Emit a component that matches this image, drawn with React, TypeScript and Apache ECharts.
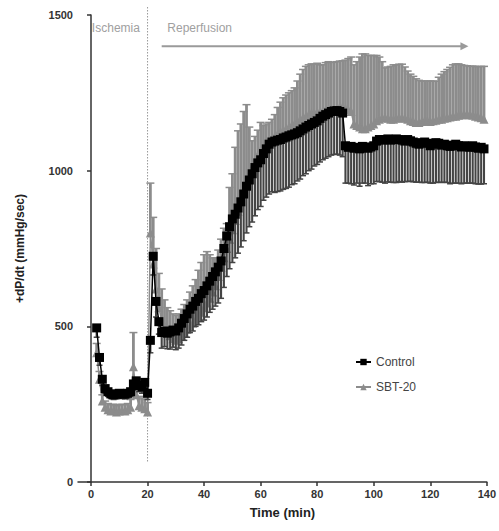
import React, { useEffect, useRef } from "react";
import * as echarts from "echarts";

const times: number[] = Array.from({ length: 138 }, (_, i) => i + 2);

const controlMean: number[] = [
  495, 400, 330, 300, 290, 283, 280, 282, 285, 283,
  282, 285, 290, 315, 325, 310, 305, 320, 285, 455,
  725, 580, 515, 480, 485, 478, 482, 488, 485, 495,
  510, 525, 540, 555, 565, 580, 590, 605, 615, 630,
  645, 660, 675, 690, 710, 750, 790, 820, 845, 860,
  880, 900, 925, 950, 970, 990, 1010, 1025, 1035, 1055,
  1070, 1085, 1092, 1095, 1098, 1100, 1105, 1108, 1112, 1115,
  1118, 1122, 1128, 1134, 1140, 1145, 1150, 1155, 1160, 1168,
  1175, 1180, 1185, 1190, 1192, 1193, 1190, 1185, 1080, 1075,
  1078, 1072, 1075, 1070, 1078, 1075, 1072, 1076, 1080, 1095,
  1100, 1098, 1100, 1102, 1098, 1100, 1102, 1100, 1098, 1095,
  1100, 1096, 1092, 1088, 1085, 1090, 1092, 1088, 1080, 1085,
  1090, 1088, 1082, 1085, 1080, 1078, 1082, 1085, 1080, 1076,
  1080, 1078, 1075, 1080, 1076, 1072, 1075, 1070,
];

const controlErr: number[] = [
  30, 25, 20, 15, 15, 15, 15, 15, 15, 15,
  15, 15, 15, 20, 20, 20, 20, 20, 20, 40,
  60, 50, 40, 50, 50, 50, 55, 55, 60, 65,
  70, 70, 75, 75, 80, 80, 85, 90, 95, 100,
  100, 105, 110, 115, 120, 125, 130, 135, 140, 140,
  145, 145, 150, 150, 150, 155, 155, 150, 150, 150,
  155, 160, 160, 165, 165, 165, 165, 165, 165, 160,
  160, 155, 155, 150, 150, 145, 145, 140, 140, 140,
  140, 140, 140, 140, 140, 140, 140, 140, 120, 115,
  120, 118, 115, 120, 118, 115, 120, 118, 122, 130,
  135, 135, 140, 138, 135, 138, 140, 135, 135, 130,
  135, 130, 128, 125, 122, 128, 130, 125, 120, 125,
  128, 125, 120, 122, 118, 120, 122, 125, 120, 118,
  120, 118, 115, 120, 118, 115, 118, 112,
];

const sbtMean: number[] = [
  415, 330, 260, 240, 232, 228, 230, 225, 228, 230,
  228, 232, 240, 370, 280, 245, 240, 235, 225, 800,
  700, 620, 560, 520, 495, 480, 470, 460, 455, 460,
  470, 480, 490, 500, 510, 520, 530, 545, 560, 575,
  590, 610, 630, 660, 690, 720, 750, 780, 810, 840,
  870, 900, 930, 960, 990, 1010, 1030, 1050, 1065, 1075,
  1085, 1095, 1105, 1110, 1118, 1125, 1130, 1135, 1140, 1145,
  1150, 1158, 1165, 1170, 1175, 1180, 1185, 1185, 1188, 1190,
  1192, 1195, 1195, 1198, 1200, 1200, 1205, 1205, 1200, 1195,
  1190, 1150, 1145, 1140, 1135, 1135, 1140, 1145, 1150, 1160,
  1165, 1170, 1170, 1168, 1165, 1165, 1168, 1170, 1170, 1168,
  1165, 1160, 1158, 1155, 1155, 1158, 1160, 1160, 1158, 1160,
  1162, 1165, 1165, 1168, 1170, 1172, 1175, 1175, 1178, 1180,
  1180, 1182, 1180, 1178, 1175, 1172, 1170, 1165,
];

const sbtErr: number[] = [
  30, 25, 20, 20, 20, 20, 20, 20, 20, 20,
  20, 20, 25, 110, 40, 30, 30, 30, 30, 160,
  150, 130, 110, 100, 90, 80, 80, 80, 80, 80,
  85, 90, 95, 110, 120, 130, 150, 160, 170, 165,
  140, 110, 90, 85, 90, 95, 80, 166, 180, 235,
  258, 250, 260, 252, 150, 86, 80, 80, 90, 70,
  65, 60, 60, 70, 85, 95, 104, 108, 110, 112,
  116, 130, 145, 155, 160, 160, 158, 157, 157, 150,
  148, 152, 155, 150, 148, 150, 147, 148, 155, 165,
  175, 190, 205, 225, 240, 240, 230, 225, 220, 210,
  200, 180, 160, 165, 170, 175, 172, 172, 172, 165,
  155, 150, 145, 140, 135, 130, 128, 128, 130, 128,
  125, 135, 145, 150, 155, 160, 165, 168, 165, 160,
  158, 155, 155, 158, 160, 162, 165, 170,
];

const xTicks: number[] = [0, 20, 40, 60, 80, 100, 120, 140];

const GRAY = "#8c8c8c";
const FONT = "'Liberation Sans', Arial, sans-serif";

function errSeries(name: string, mean: number[], err: number[], up: boolean, down: boolean, color: string, lw: number, capW: number, z: number) {
  return {
    name,
    type: "custom",
    z,
    silent: true,
    data: times.map((t, i) => [t, mean[i], err[i]]),
    encode: { x: 0, y: 1 },
    renderItem: (_params: any, api: any) => {
      const x = api.value(0);
      const y = api.value(1);
      const e = api.value(2);
      const children: any[] = [];
      const ends: number[][] = [];
      if (up) ends.push(api.coord([x, y + e]));
      if (down) ends.push(api.coord([x, y - e]));
      const p0 = api.coord([x, y]);
      for (const p1 of ends) {
        children.push({ type: "line", shape: { x1: p0[0], y1: p0[1], x2: p1[0], y2: p1[1] }, style: { stroke: color, lineWidth: lw } });
        children.push({ type: "line", shape: { x1: p1[0] - capW / 2, y1: p1[1], x2: p1[0] + capW / 2, y2: p1[1] }, style: { stroke: color, lineWidth: 1.5 } });
      }
      return { type: "group", children };
    },
  };
}

export default function App() {
  const ref = useRef<HTMLDivElement>(null);
  useEffect(() => {
    document.body.style.margin = "0";
    if (!ref.current) return;
    const chart = echarts.init(ref.current, null, { renderer: "svg" });
    const option: any = {
      animation: false,
      backgroundColor: "#fff",
      grid: { left: 78, right: 12, top: 15, bottom: 49 },
      xAxis: {
        type: "value",
        min: -4.6,
        max: 140,
        name: "Time (min)",
        nameLocation: "middle",
        nameGap: 24,
        nameTextStyle: { fontFamily: FONT, fontWeight: "bold", fontSize: 13, color: "#222" },
        axisLine: { show: true, onZero: false, lineStyle: { color: "#333", width: 1.5 } },
        axisTick: { show: true, customValues: xTicks, length: 4, lineStyle: { color: "#333", width: 1.5 } },
        axisLabel: { customValues: xTicks, fontFamily: FONT, fontWeight: "bold", fontSize: 11, color: "#333", margin: 6 },
        splitLine: { show: false },
      },
      yAxis: {
        type: "value",
        min: 0,
        max: 1500,
        interval: 500,
        name: "+dP/dt (mmHg/sec)",
        nameLocation: "middle",
        nameGap: 52,
        nameTextStyle: { fontFamily: FONT, fontWeight: "bold", fontSize: 12, color: "#222" },
        axisLine: { show: true, lineStyle: { color: "#333", width: 1.5 } },
        axisTick: { show: true, length: 4, lineStyle: { color: "#333", width: 1.5 } },
        axisLabel: { formatter: (v: number) => String(v), fontFamily: FONT, fontWeight: "bold", fontSize: 11, color: "#333", margin: 5 },
        splitLine: { show: false },
      },
      legend: {
        data: ["Control", "SBT-20"],
        orient: "vertical",
        left: 350,
        top: 351,
        itemGap: 13,
        itemWidth: 15,
        itemHeight: 8,
        textStyle: { fontFamily: FONT, fontSize: 12, color: "#444" },
      },
      series: [
        errSeries("sbtErr", sbtMean, sbtErr, true, false, GRAY, 2.8, 8, 1),
        {
          name: "SBT-20",
          type: "line",
          z: 2,
          data: times.map((t, i) => [t, sbtMean[i]]),
          symbol: "triangle",
          symbolSize: 9,
          lineStyle: { color: GRAY, width: 1.5 },
          itemStyle: { color: GRAY },
        },
        errSeries("ctlErr", controlMean, controlErr, false, true, "#444", 2.1, 6, 3),
        {
          name: "Control",
          type: "line",
          z: 4,
          data: times.map((t, i) => [t, controlMean[i]]),
          symbol: "rect",
          symbolSize: 9,
          lineStyle: { color: "#000", width: 1.5 },
          itemStyle: { color: "#000" },
        },
      ],
    };
    chart.setOption(option);

    const pIsch = chart.convertToPixel({ gridIndex: 0 }, [20, 65]) as number[];
    const aStart = chart.convertToPixel({ gridIndex: 0 }, [25, 1400]) as number[];
    const aEnd = chart.convertToPixel({ gridIndex: 0 }, [133.5, 1400]) as number[];
    const tIsch = chart.convertToPixel({ gridIndex: 0 }, [8.8, 1458]) as number[];
    const tRep = chart.convertToPixel({ gridIndex: 0 }, [27, 1458]) as number[];

    chart.setOption({
      graphic: [
        {
          type: "line",
          shape: { x1: pIsch[0], y1: 7, x2: pIsch[0], y2: pIsch[1] },
          style: { stroke: "#999", lineWidth: 1, lineDash: [1.5, 1.5] },
          z: 0,
        },
        {
          type: "line",
          shape: { x1: aStart[0], y1: aStart[1], x2: aEnd[0] - 6, y2: aEnd[1] },
          style: { stroke: "#9a9a9a", lineWidth: 2 },
        },
        {
          type: "polygon",
          shape: { points: [[aEnd[0] - 8, aEnd[1] - 4], [aEnd[0], aEnd[1]], [aEnd[0] - 8, aEnd[1] + 4]] },
          style: { fill: "#9a9a9a" },
        },
        {
          type: "text",
          x: tIsch[0],
          y: tIsch[1],
          style: { text: "Ischemia", fill: "#a0a0a0", fontSize: 12, fontFamily: FONT, align: "center", verticalAlign: "middle" },
        },
        {
          type: "text",
          x: tRep[0],
          y: tRep[1],
          style: { text: "Reperfusion", fill: "#a0a0a0", fontSize: 12, fontFamily: FONT, align: "left", verticalAlign: "middle" },
        },
      ],
    });

    return () => chart.dispose();
  }, []);
  return <div ref={ref} style={{ width: 499, height: 531 }} />;
}
